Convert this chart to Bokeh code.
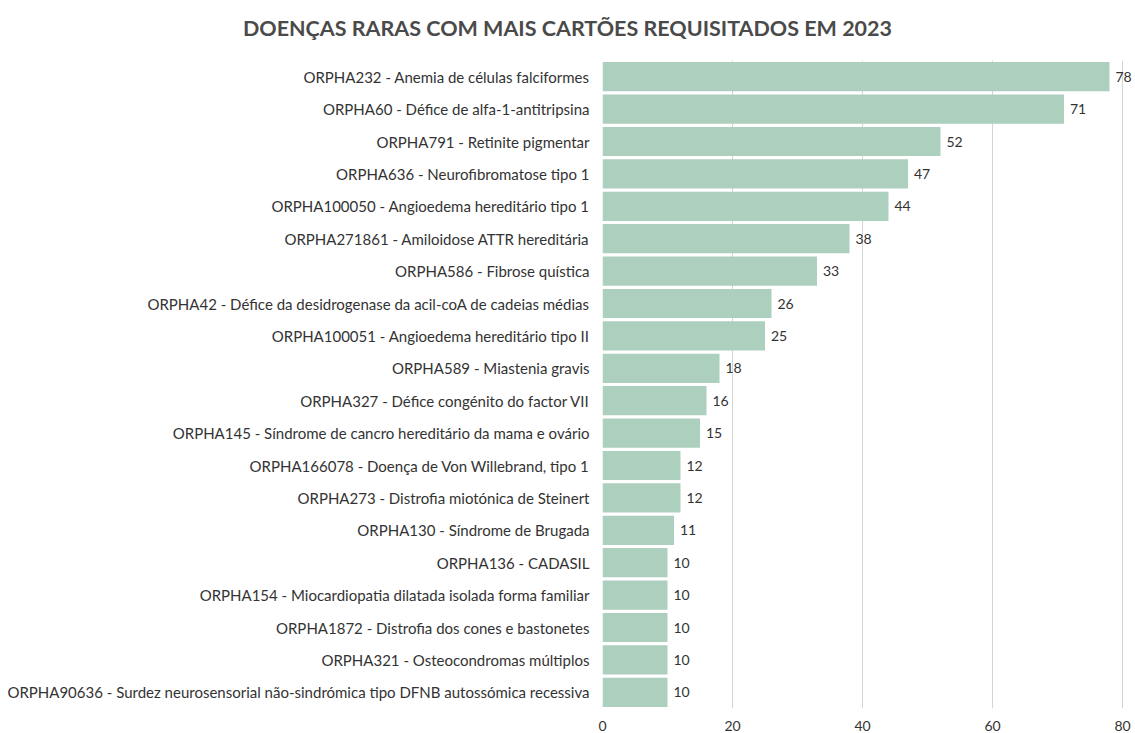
from bokeh.plotting import figure
from bokeh.models import ColumnDataSource, Range1d, Div, LabelSet
from bokeh.layouts import column
from bokeh.core.properties import value
from bokeh.embed import file_html
from bokeh.resources import INLINE

title = "DOENÇAS RARAS COM MAIS CARTÕES REQUISITADOS EM 2023"
categories = [
    "ORPHA232 - Anemia de células falciformes",
    "ORPHA60 - Défice de alfa-1-antitripsina",
    "ORPHA791 - Retinite pigmentar",
    "ORPHA636 - Neurofibromatose tipo 1",
    "ORPHA100050 - Angioedema hereditário tipo 1",
    "ORPHA271861 - Amiloidose ATTR hereditária",
    "ORPHA586 - Fibrose quística",
    "ORPHA42 - Défice da desidrogenase da acil-coA de cadeias médias",
    "ORPHA100051 - Angioedema hereditário tipo II",
    "ORPHA589 - Miastenia gravis",
    "ORPHA327 - Défice congénito do factor VII",
    "ORPHA145 - Síndrome de cancro hereditário da mama e ovário",
    "ORPHA166078 - Doença de Von Willebrand, tipo 1",
    "ORPHA273 - Distrofia miotónica de Steinert",
    "ORPHA130 - Síndrome de Brugada",
    "ORPHA136 - CADASIL",
    "ORPHA154 - Miocardiopatia dilatada isolada forma familiar",
    "ORPHA1872 - Distrofia dos cones e bastonetes",
    "ORPHA321 - Osteocondromas múltiplos",
    "ORPHA90636 - Surdez neurosensorial não-sindrómica tipo DFNB autossómica recessiva",
]
values = [78, 71, 52, 47, 44, 38, 33, 26, 25, 18, 16, 15, 12, 12, 11, 10, 10, 10, 10, 10]
x_ticks = [0, 20, 40, 60, 80]

FONT = "Lato"
TXT = "#333333"

src = ColumnDataSource(dict(cat=categories, val=values, lab=[str(v) for v in values]))

p = figure(
    y_range=list(reversed(categories)),
    x_range=Range1d(0, 82.0),
    width=1135, height=681,
    output_backend="svg", toolbar_location=None,
    min_border_left=602, min_border_right=0, min_border_top=8, min_border_bottom=25,
)
p.hbar(y="cat", right="val", height=0.9, source=src, color="#accfbe", line_color=None)

labels = LabelSet(x="val", y="cat", text="lab", source=src, x_offset=6, y_offset=0,
                  text_baseline="middle", text_font=value(FONT), text_font_size="14px",
                  text_color=TXT)
p.add_layout(labels)

p.outline_line_color = None
p.ygrid.grid_line_color = None
p.xgrid.grid_line_color = "#d4d4d4"
p.xaxis.ticker = x_ticks
p.xaxis.axis_line_color = None
p.xaxis.major_tick_line_color = None
p.xaxis.minor_tick_line_color = None
p.xaxis.major_label_standoff = 6
p.xaxis.major_label_text_font = FONT
p.xaxis.major_label_text_font_size = "14px"
p.xaxis.major_label_text_color = TXT
p.yaxis.axis_line_color = None
p.yaxis.major_tick_line_color = None
p.yaxis.minor_tick_line_color = None
p.yaxis.major_label_standoff = 7
p.yaxis.major_label_text_font = FONT
p.yaxis.major_label_text_font_size = "15px"
p.yaxis.major_label_text_color = TXT

div = Div(
    text=title, width=1135, height=52, margin=(0, 0, 0, 0),
    styles={"text-align": "center", "font-family": "Lato", "font-weight": "bold",
            "font-size": "21.5px", "color": "#4a4a4a", "padding-top": "13px", "width": "1135px"},
)

layout = column(div, p, spacing=0)
open("out.html", "w").write(file_html(layout, INLINE))
